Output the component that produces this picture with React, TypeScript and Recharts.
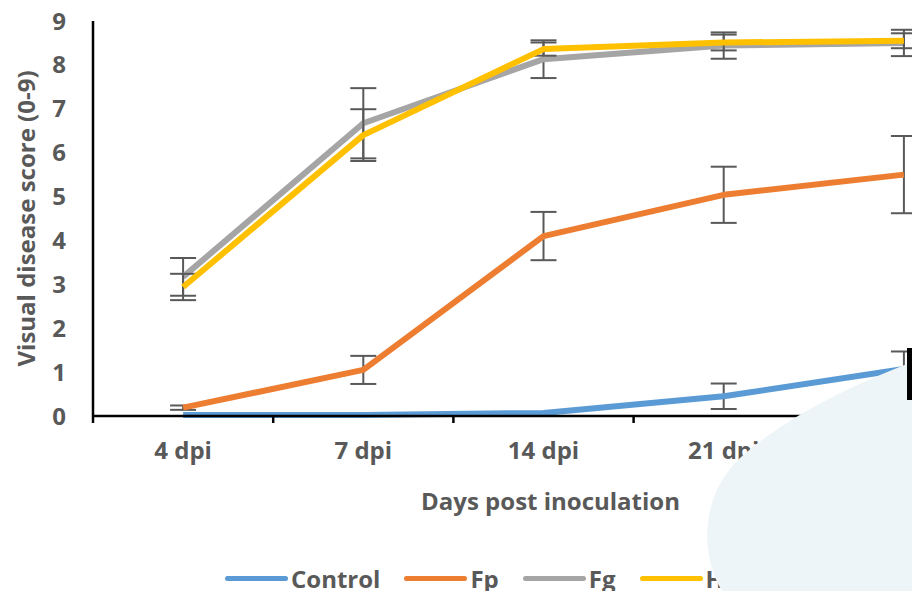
import { ErrorBar, Legend, Line, LineChart, XAxis, YAxis } from "recharts";

const DAYS = ["4 dpi", "7 dpi", "14 dpi", "21 dpi", "28 dpi"];
const CONTROL = [0.02, 0.02, 0.07, 0.45, 1.07];
const CONTROL_ERR = [0, 0, 0, 0.29, 0.4];
const FP = [0.19, 1.05, 4.1, 5.04, 5.5];
const FP_ERR = [0.05, 0.32, 0.55, 0.64, 0.88];
const FG = [3.17, 6.67, 8.13, 8.44, 8.5];
const FG_ERR = [0.43, 0.8, 0.43, 0.3, 0.3];
const HX = [2.94, 6.4, 8.36, 8.51, 8.55];
const HX_ERR = [0.3, 0.59, 0.15, 0.18, 0.17];
const Y_TICKS = [0, 1, 2, 3, 4, 5, 6, 7, 8, 9];

const FONT = "'Open Sans', sans-serif";
const TEXT = "#595959";
const AXIS = "#000000";
const ERR = "#595959";

const SERIES = [
  { key: "control", name: "Control", color: "#5B9BD5" },
  { key: "fp", name: "Fp", color: "#ED7D31" },
  { key: "fg", name: "Fg", color: "#A5A5A5" },
  { key: "hx", name: "H", color: "#FFC000" },
];

const data = DAYS.map((day, i) => ({
  x: i,
  day,
  control: CONTROL[i],
  controlErr: CONTROL_ERR[i],
  fp: FP[i],
  fpErr: FP_ERR[i],
  fg: FG[i],
  fgErr: FG_ERR[i],
  hx: HX[i],
  hxErr: HX_ERR[i],
}));

// boundary ticks at half steps, labels at the whole ones
const X_TICKS = DAYS.flatMap((_, i) => [i - 0.5, i]).concat(DAYS.length - 0.5);

function XTick(props: any) {
  const { x, y, payload } = props;
  const v = payload.value;
  if (!Number.isInteger(v)) {
    return <line x1={x} x2={x} y1={y} y2={y + 7} stroke={AXIS} strokeWidth={2.5} />;
  }
  return (
    <text
      x={x}
      y={y + 26}
      dy="0.71em"
      textAnchor="middle"
      fill={TEXT}
      fontSize={24}
      fontWeight={700}
      fontFamily={FONT}
    >
      {DAYS[v]}
    </text>
  );
}

// legend keeps series order (recharts sorts payload by name otherwise)
function LegendContent() {
  return (
    <div style={{ display: "flex", alignItems: "center", height: 31, paddingLeft: 225 }}>
      {SERIES.map((s) => (
        <div key={s.key} style={{ display: "flex", alignItems: "center", marginRight: 24 }}>
          <span
            style={{
              display: "inline-block",
              width: 63,
              height: 5,
              borderRadius: 3,
              background: s.color,
              marginRight: 3,
            }}
          />
          <span style={{ fontFamily: FONT, fontWeight: 700, fontSize: 24, color: TEXT, lineHeight: "31px" }}>
            {s.name}
          </span>
        </div>
      ))}
    </div>
  );
}

export default function App() {
  return (
    <div
      style={{
        position: "absolute",
        left: 0,
        top: 0,
        width: 912,
        height: 591,
        overflow: "hidden",
        background: "#fff",
      }}
    >
      <LineChart width={1000} height={591} data={data} margin={{ top: 21, right: 6, left: 0, bottom: 0 }}>
        <XAxis
          dataKey="x"
          type="number"
          domain={[-0.5, DAYS.length - 0.5]}
          ticks={X_TICKS}
          interval={0}
          tick={<XTick />}
          tickLine={false}
          tickSize={0}
          tickMargin={0}
          axisLine={{ stroke: AXIS, strokeWidth: 2.5 }}
          height={144}
          label={{
            value: "Days post inoculation",
            position: "insideBottom",
            offset: 50,
            dx: 7,
            fill: TEXT,
            fontSize: 24,
            fontWeight: 700,
            fontFamily: FONT,
          }}
        />
        <YAxis
          domain={[0, 9]}
          ticks={Y_TICKS}
          interval={0}
          width={93}
          tickLine={false}
          tickSize={0}
          tickMargin={27}
          axisLine={{ stroke: AXIS, strokeWidth: 2.5 }}
          tick={{ fill: TEXT, fontSize: 24, fontWeight: 700, fontFamily: FONT }}
          label={{
            value: "Visual disease score (0-9)",
            angle: -90,
            position: "insideLeft",
            offset: 26,
            fill: TEXT,
            fontSize: 24,
            fontWeight: 700,
            fontFamily: FONT,
            style: { textAnchor: "middle" },
          }}
        />
        <Legend
          content={<LegendContent />}
          verticalAlign="bottom"
          wrapperStyle={{ left: 0, top: 563, bottom: "auto", width: 912, height: 31 }}
        />
        {SERIES.map((s) => (
          <Line
            key={s.key}
            type="linear"
            dataKey={s.key}
            name={s.name}
            stroke={s.color}
            strokeWidth={6}
            strokeLinejoin="round"
            dot={false}
            activeDot={false}
            isAnimationActive={false}
          >
            <ErrorBar
              dataKey={`${s.key}Err`}
              direction="y"
              width={13}
              stroke={ERR}
              strokeWidth={2}
              isAnimationActive={false}
            />
          </Line>
        ))}
      </LineChart>
      <svg
        width={912}
        height={591}
        style={{ position: "absolute", left: 0, top: 0, pointerEvents: "none" }}
      >
        <path
          d="M 722 591 C 700 555, 700 495, 740 458 C 785 418, 845 388, 912 362 L 912 591 Z"
          fill="#eef5f8"
        />
        <rect x={907} y={348} width={5} height={52} fill="#000" />
      </svg>
    </div>
  );
}
